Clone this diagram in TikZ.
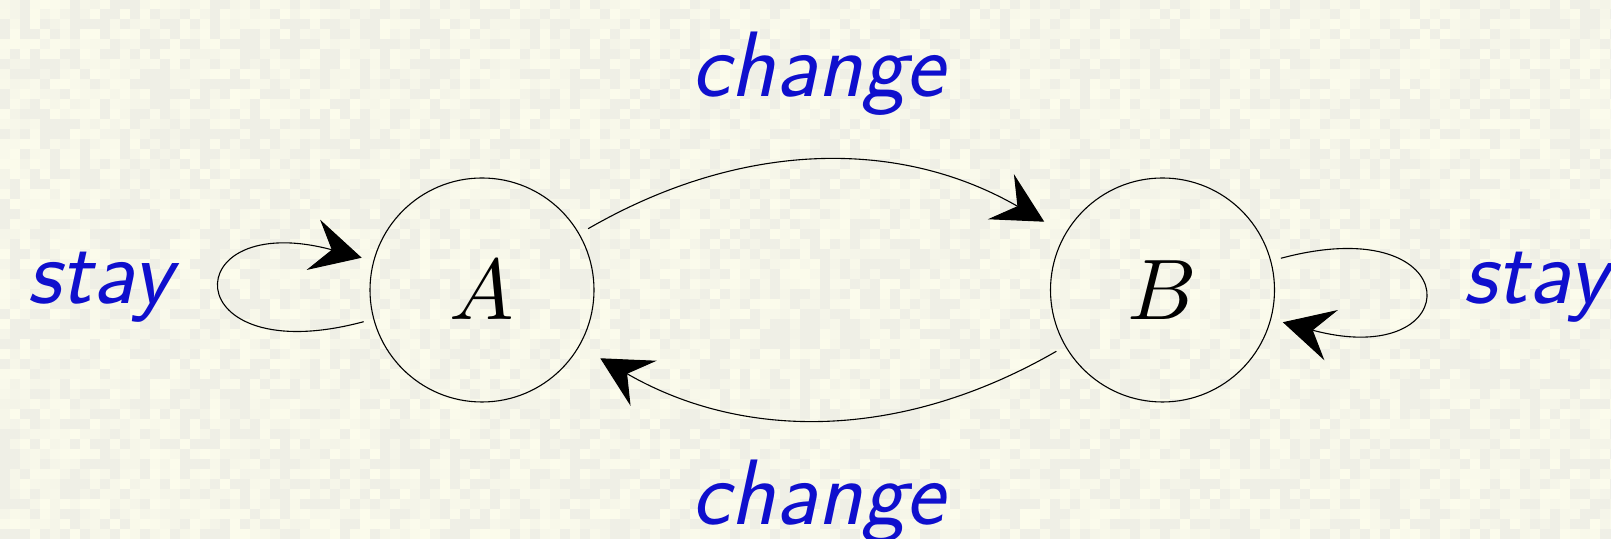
\documentclass[tikz,border=0pt]{standalone}
\usepackage{graphicx}
\usetikzlibrary{arrows.meta}
\definecolor{bgcol}{RGB}{239,239,230}
\definecolor{bglight}{RGB}{252,252,236}
\definecolor{lblue}{RGB}{15,15,205}
\begin{document}
\begin{tikzpicture}[x=0.5pt,y=0.5pt,
  state/.style={circle,draw,line width=0.55pt,minimum size=112pt,inner sep=0pt},
  conn/.style={line width=0.55pt,-{Stealth[length=25pt,width=26pt,inset=9.5pt]}},
  lab/.style={text=lblue,inner sep=0pt,font=\fontsize{46.5}{46.5}\selectfont\sffamily\itshape}]
\useasboundingbox (0,0) rectangle (1611,539);
\begin{scope}
\clip (0,0) rectangle (1611,539);
\fill[bgcol] (0,0) rectangle (1611,539);
\pgfmathsetseed{4242}
\foreach \i in {0,...,161}{
  \foreach \j in {0,...,53}{
    \pgfmathrandominteger{\r}{0}{100}
    \ifnum\r>35
      \fill[bglight!\r!bgcol] (\i*10,\j*10) rectangle ++(10,10);
    \fi
  }
}
\end{scope}
\node[state] (A) at (482,249) {\raisebox{-5pt}{\scalebox{4.3}{$A$}}};
\node[state] (B) at (1162.5,249) {\raisebox{-5pt}{\scalebox{4.3}{$B$}}};
\node[lab,anchor=base] (c1) at (818,442) {change};
\node[lab,anchor=base] (c2) at (818,14) {change};
\node[lab,anchor=base west] (s1) at (27,235) {stay};
\node[lab,anchor=base west] (s2) at (1463,235) {stay};
\draw[conn,shorten <=5pt,shorten >=12pt] (A) to[bend left=30] (B);
\draw[conn,shorten <=5pt,shorten >=12pt] (B) to[bend left=30] (A);
\draw[conn,shorten <=5pt,shorten >=6pt] (A.195) .. controls +(195:206) and +(165:206) .. (A.165);
\draw[conn,shorten <=5pt,shorten >=6pt] (B.15) .. controls +(15:206) and +(-15:206) .. (B.-15);
\end{tikzpicture}
\end{document}
